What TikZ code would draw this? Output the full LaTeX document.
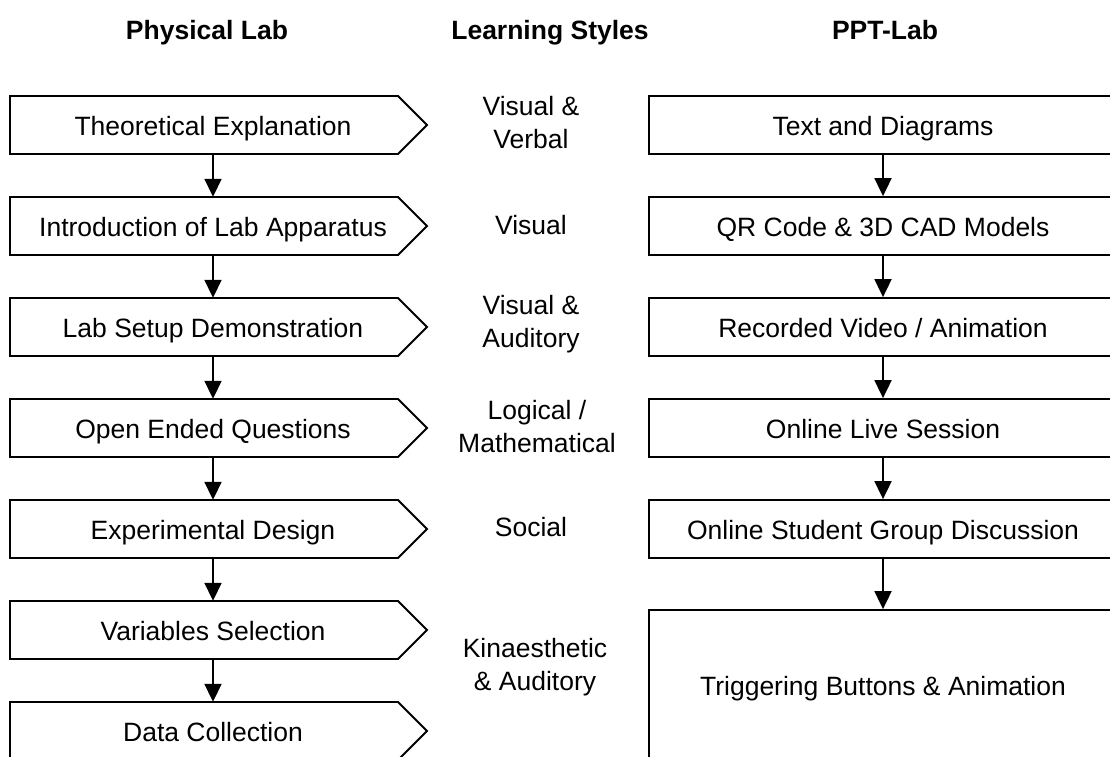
\documentclass[tikz,border=0pt]{standalone}
\usepackage{fontspec}
\setmainfont{Liberation Sans}
\usetikzlibrary{arrows.meta}
\begin{document}
\begin{tikzpicture}[x=1pt,y=-1pt,
  txt/.style={font=\fontsize{26.5}{33}\selectfont, align=center, inner sep=0pt},
  hdr/.style={font=\fontsize{26.5}{33}\selectfont\bfseries, inner sep=0pt, anchor=base},
  lnode/.style={txt, text height=20pt, text depth=0pt, minimum width=406pt, minimum height=58pt},
  rbox/.style={txt, text height=20pt, text depth=0pt, draw, line width=1.8pt, minimum width=468pt, minimum height=58pt},
  outline/.style={line width=1.8pt},
  conn/.style={line width=1.8pt, -{Triangle[width=17pt,length=18pt]}}]
\useasboundingbox (0,0) rectangle (1110,756);
\fill[white] (0,0) rectangle (1110,756);
\clip (0,0) rectangle (1110,756);

\newcommand\leftbox[3]{%
  \node[lnode] (#1) at (213,#2) {#3};
  \draw[outline] (10,{#2-29}) -- (398,{#2-29}) -- (427,#2) -- (398,{#2+29}) -- (10,{#2+29}) -- cycle;}

% headers
\node[hdr] (h1) at (207,39) {Physical Lab};
\node[hdr] (h2) at (550,39) {Learning Styles};
\node[hdr] (h3) at (885,39) {PPT-Lab};

% left column
\leftbox{l1}{125}{Theoretical Explanation}
\leftbox{l2}{226}{Introduction of Lab Apparatus}
\leftbox{l3}{327}{Lab Setup Demonstration}
\leftbox{l4}{428}{Open Ended Questions}
\leftbox{l5}{529}{Experimental Design}
\leftbox{l6}{630}{Variables Selection}
\leftbox{l7}{731}{Data Collection}

\foreach \a/\b in {l1/l2,l2/l3,l3/l4,l4/l5,l5/l6,l6/l7}
  \draw[conn] (\a.south) -- (\b.north);

% middle column
\node[txt] (m1) at (531,123) {Visual \&\\Verbal};
\node[txt] (m2) at (531,225) {Visual};
\node[txt] (m3) at (531,324) {Visual \&\\Auditory};
\node[txt] (m4) at (537,427) {Logical /\\Mathematical};
\node[txt] (m5) at (531,527) {Social};
\node[txt] (m6) at (535,667) {Kinaesthetic\\\& Auditory};

% right column
\node[rbox] (r1) at (883,125) {Text and Diagrams};
\node[rbox] (r2) at (883,226) {QR Code \& 3D CAD Models};
\node[rbox] (r3) at (883,327) {Recorded Video / Animation};
\node[rbox] (r4) at (883,428) {Online Live Session};
\node[rbox] (r5) at (883,529) {Online Student Group Discussion};
\node[rbox, minimum height=150pt] (r6) at (883,685) {Triggering Buttons \& Animation};

\foreach \a/\b in {r1/r2,r2/r3,r3/r4,r4/r5,r5/r6}
  \draw[conn] (\a.south) -- (\b.north);
\end{tikzpicture}
\end{document}
